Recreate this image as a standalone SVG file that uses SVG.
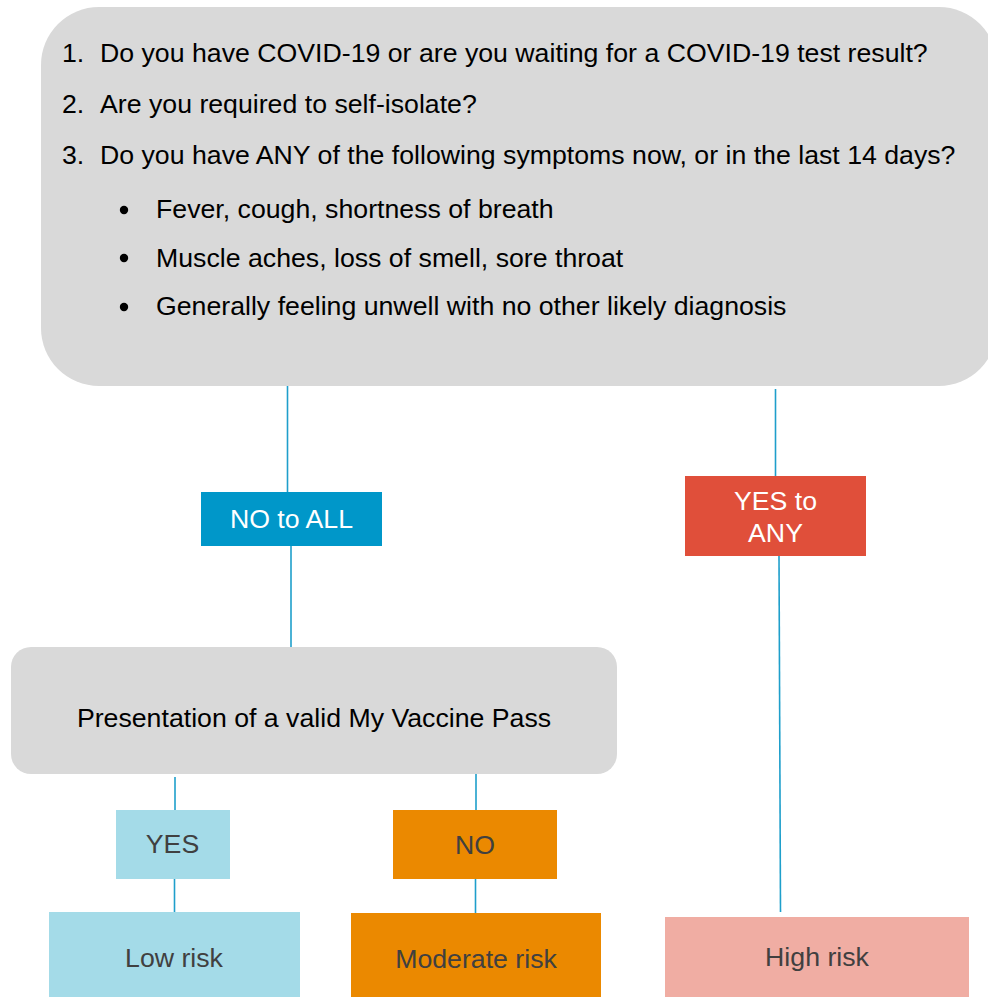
<svg xmlns="http://www.w3.org/2000/svg" width="988" height="997" viewBox="0 0 988 997">
<style>
text{font-family:"Liberation Sans",Arial,sans-serif;font-size:26.7px}
.q{fill:#000}
.w{fill:#fff;text-anchor:middle}
.d{fill:#404040;text-anchor:middle}
.c{fill:#000;text-anchor:middle}
.ln{stroke:#1E9FCB;stroke-width:1.6;fill:none}
</style>
<rect width="988" height="997" fill="#fff"/>
<g id="questions">
<rect x="41" y="7" width="956" height="379" rx="58" fill="#D9D9D9"/>
<text class="q" x="62" y="62">1.</text><text class="q" x="100" y="62">Do you have COVID-19 or are you waiting for a COVID-19 test result?</text>
<text class="q" x="62" y="113">2.</text><text class="q" x="100" y="113">Are you required to self-isolate?</text>
<text class="q" x="62" y="164">3.</text><text class="q" x="100" y="164">Do you have ANY of the following symptoms now, or in the last 14 days?</text>
<circle cx="124" cy="210" r="4.2" fill="#000"/><text class="q" x="156" y="218">Fever, cough, shortness of breath</text>
<circle cx="124" cy="258" r="4.2" fill="#000"/><text class="q" x="156" y="267">Muscle aches, loss of smell, sore throat</text>
<circle cx="124" cy="307" r="4.2" fill="#000"/><text class="q" x="156" y="315">Generally feeling unwell with no other likely diagnosis</text>
</g>
<g id="connectors">
<line class="ln" x1="287.5" y1="386" x2="287.5" y2="492"/>
<line class="ln" x1="291" y1="546" x2="291" y2="647"/>
<line class="ln" x1="775.5" y1="389" x2="775.5" y2="476"/>
<line class="ln" x1="779" y1="556" x2="780.5" y2="912"/>
<line class="ln" x1="175" y1="777" x2="175" y2="810"/>
<line class="ln" x1="174.5" y1="879" x2="174.5" y2="916"/>
<line class="ln" x1="476" y1="774" x2="476" y2="810"/>
<line class="ln" x1="475.5" y1="879" x2="475.5" y2="913"/>
</g>
<g id="no-to-all">
<rect x="201" y="492" width="181" height="54" fill="#0097C9"/>
<text class="w" x="291.5" y="528">NO to ALL</text>
</g>
<g id="yes-to-any">
<rect x="685" y="476" width="181" height="80" fill="#E04F3A"/>
<text class="w" x="775.5" y="510">YES to</text>
<text class="w" x="775.5" y="542">ANY</text>
</g>
<g id="vaccine-pass">
<rect x="11" y="647" width="606" height="127" rx="20" fill="#D9D9D9"/>
<text class="c" x="314" y="727">Presentation of a valid My Vaccine Pass</text>
</g>
<g id="yes">
<rect x="116" y="810" width="114" height="69" fill="#A4DBE8"/>
<text class="d" x="172.5" y="853">YES</text>
</g>
<g id="no">
<rect x="393" y="810" width="164" height="69" fill="#EB8900"/>
<text class="d" x="475" y="854">NO</text>
</g>
<g id="low-risk">
<rect x="49" y="912" width="251" height="85" fill="#A4DBE8"/>
<text class="d" x="174" y="967">Low risk</text>
</g>
<g id="moderate-risk">
<rect x="351" y="913" width="250" height="84" fill="#EB8900"/>
<text class="d" x="476" y="968">Moderate risk</text>
</g>
<g id="high-risk">
<rect x="665" y="917" width="304" height="80" fill="#F0ADA3"/>
<text class="d" x="817" y="966">High risk</text>
</g>
</svg>
